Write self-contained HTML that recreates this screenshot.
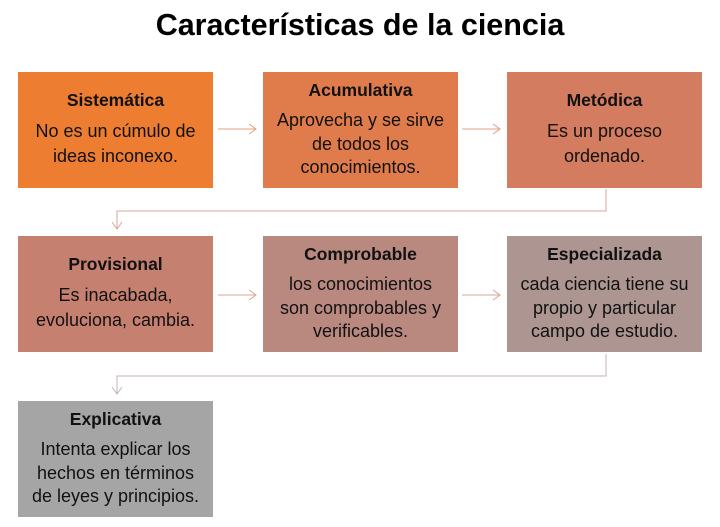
<!DOCTYPE html>
<html><head><meta charset="utf-8"><style>
body{margin:0;width:720px;height:527px;background:#fff;font-family:"Liberation Sans",sans-serif;position:relative;overflow:hidden}
.t{position:absolute;top:8px;left:0;width:720px;text-align:center;font-size:30.5px;font-weight:bold;color:#000}
.b{position:absolute;width:195px;height:116px;text-align:center;color:#111;box-sizing:border-box;padding-top:18px}
.b h{display:block;font-weight:bold;font-size:17.5px;margin-bottom:8px}
.b p{margin:0;font-size:18px;line-height:24.5px;white-space:nowrap}
.b.th{padding-top:8px}
.b.th p{line-height:23.5px}
svg{position:absolute;left:0;top:0}
</style></head><body>
<div class="t">Características de la ciencia</div>
<svg width="720" height="527" fill="none">
<g stroke="#e0a080" stroke-width="1">
<path d="M218 129H255M249 124L256 129L249 134"/>
<path d="M462 129H499M493 124L500 129L493 134"/>
</g>
<g stroke="#d9a59a" stroke-width="1">
<path d="M606 189V211H117V228M112 222L117 229L122 222"/>
<path d="M218 295H255M249 290L256 295L249 300"/>
<path d="M462 295H499M493 290L500 295L493 300"/>
</g>
<g stroke="#c4b4b0" stroke-width="1">
<path d="M606 354V376H117V393M112 387L117 394L122 387"/>
</g>
</svg>
<div class="b" style="left:18px;top:72px;background:#ed7d31"><h>Sistemática</h><p>No es un cúmulo de<br>ideas inconexo.</p></div>
<div class="b th" style="left:263px;top:72px;background:#e07c4c"><h>Acumulativa</h><p>Aprovecha y se sirve<br>de todos los<br>conocimientos.</p></div>
<div class="b" style="left:507px;top:72px;background:#d47c60"><h>Metódica</h><p>Es un proceso<br>ordenado.</p></div>
<div class="b" style="left:18px;top:236px;background:#c68070"><h>Provisional</h><p>Es inacabada,<br>evoluciona, cambia.</p></div>
<div class="b th" style="left:263px;top:236px;background:#b98980"><h>Comprobable</h><p>los conocimientos<br>son comprobables y<br>verificables.</p></div>
<div class="b th" style="left:507px;top:236px;background:#ad9592"><h>Especializada</h><p>cada ciencia tiene su<br>propio y particular<br>campo de estudio.</p></div>
<div class="b th" style="left:18px;top:401px;background:#a5a5a5"><h>Explicativa</h><p>Intenta explicar los<br>hechos en términos<br>de leyes y principios.</p></div>
</body></html>
